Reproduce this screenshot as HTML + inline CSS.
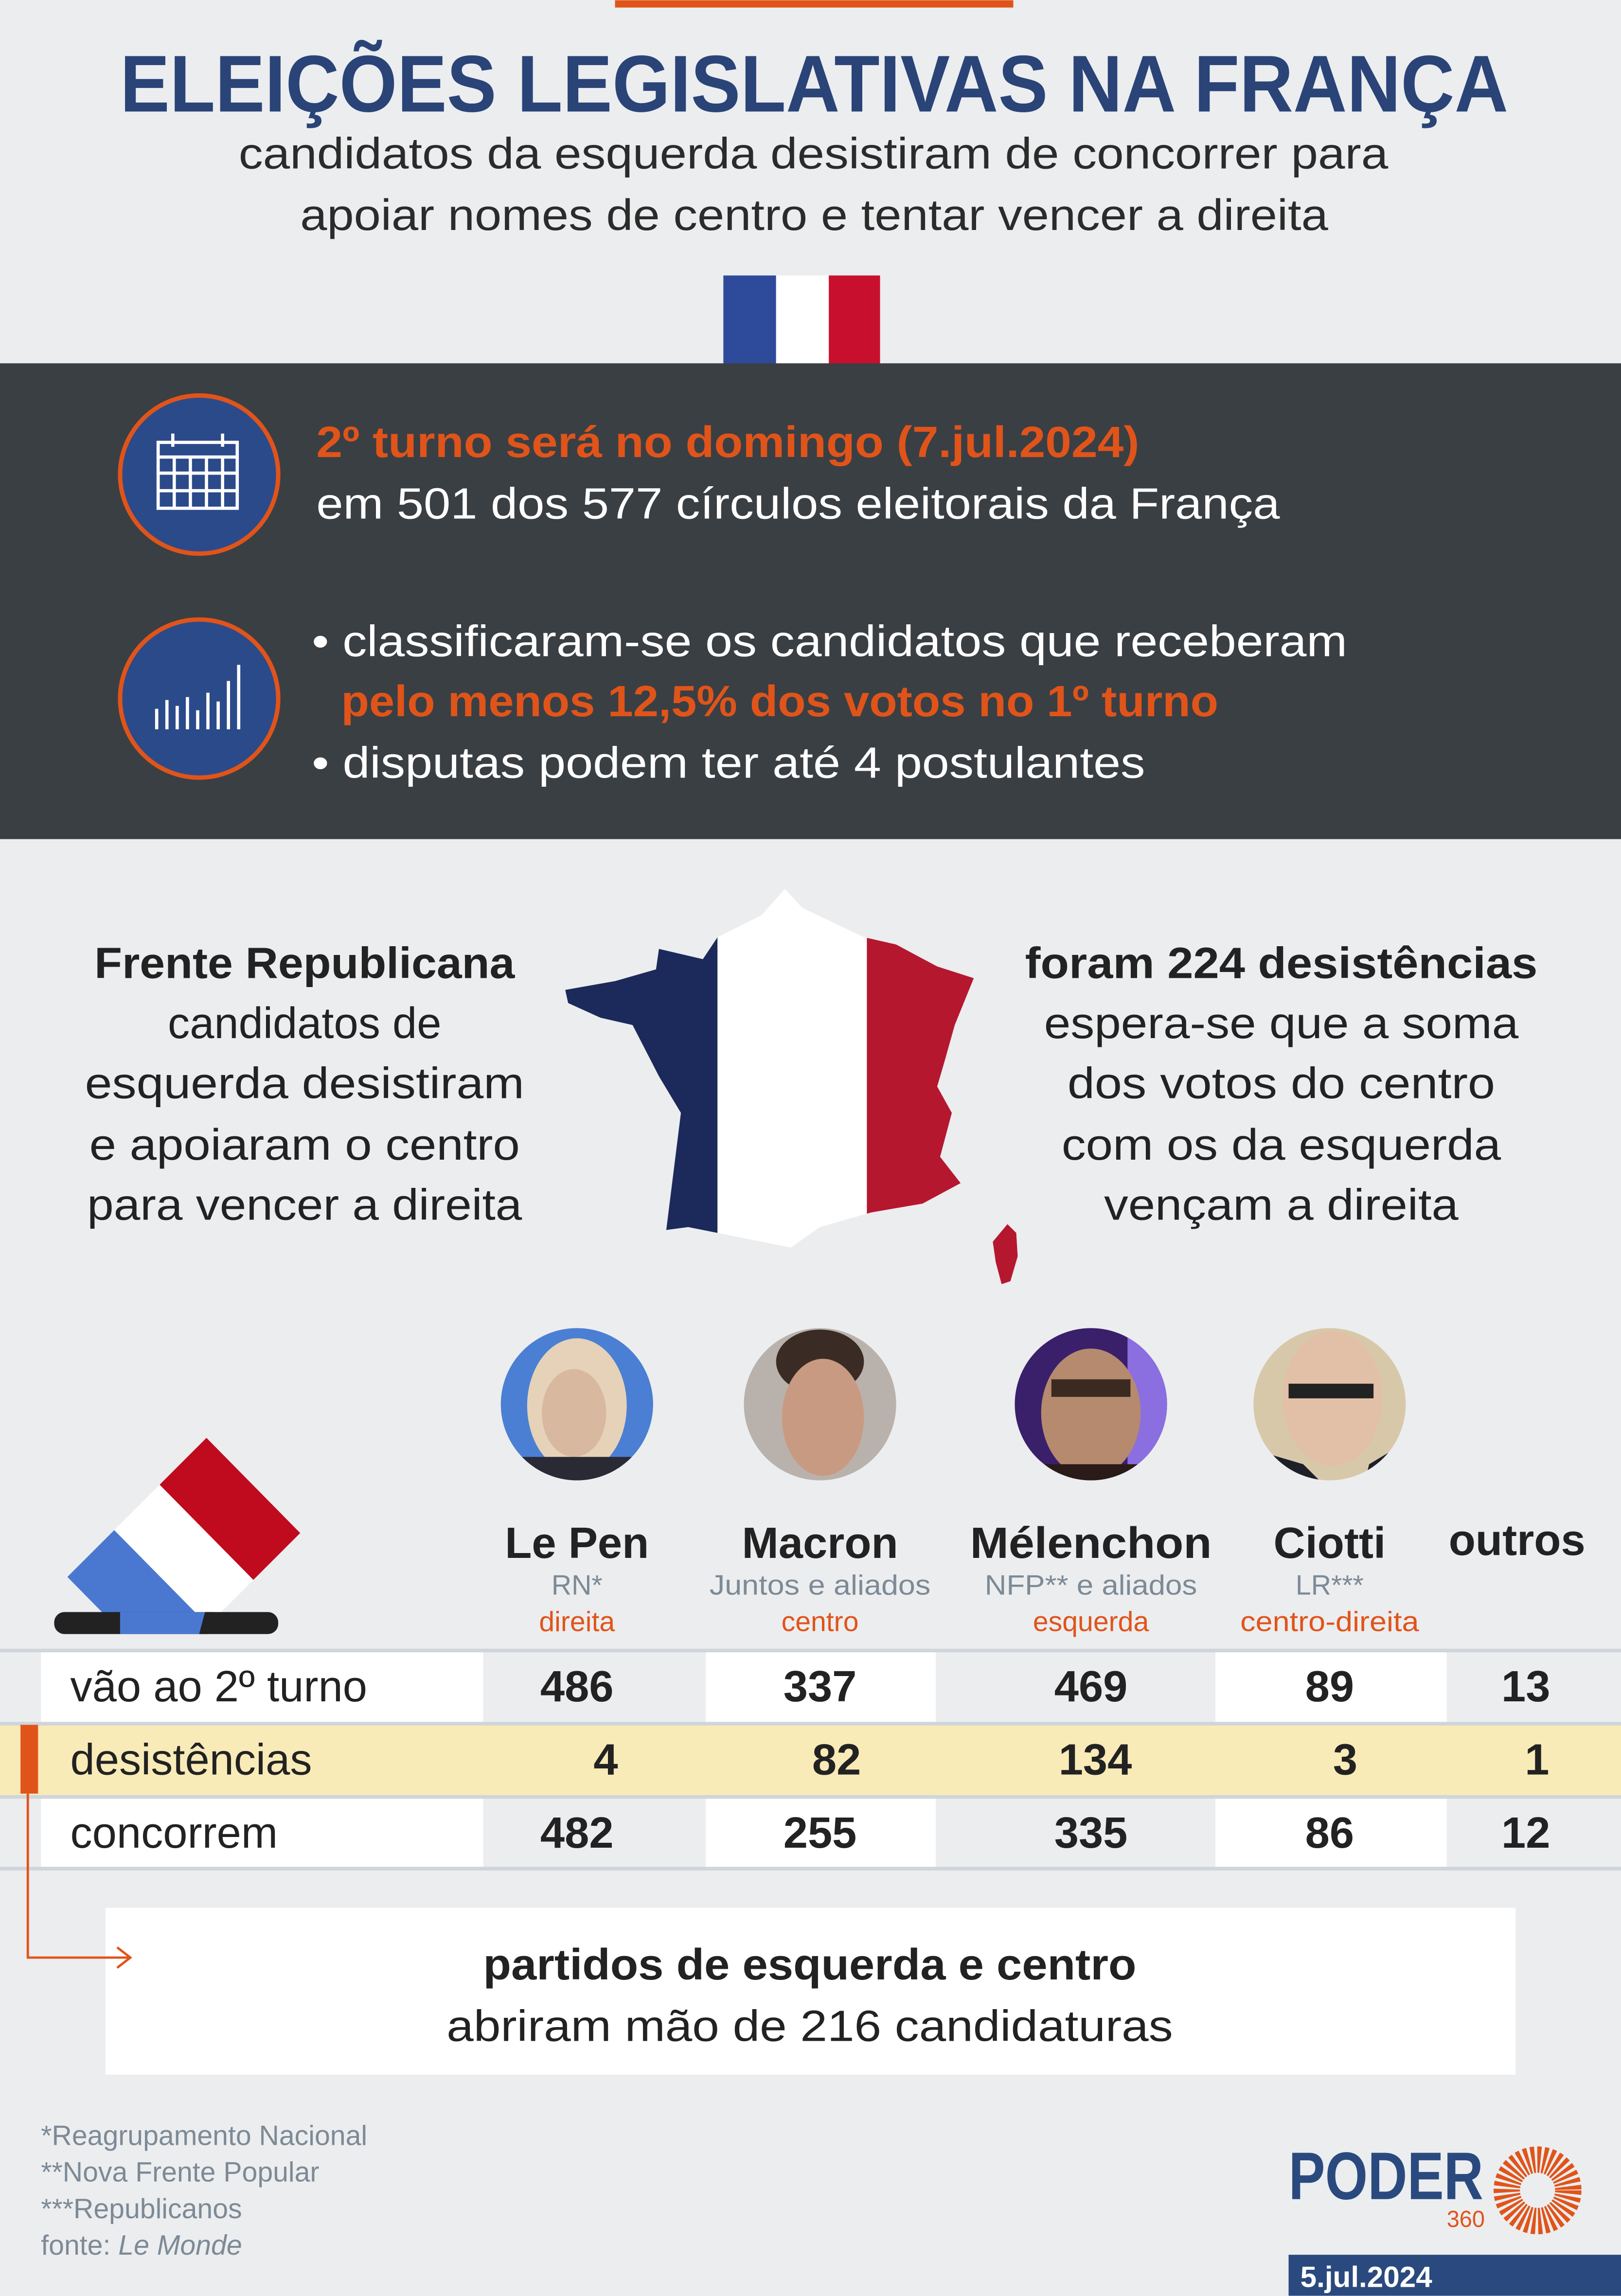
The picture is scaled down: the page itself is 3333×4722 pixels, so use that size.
<!DOCTYPE html>
<html><head><meta charset="utf-8"><style>
html,body{margin:0;padding:0;background:#ecedef;}
svg{display:block;}
text{font-family:"Liberation Sans",sans-serif;}
</style></head><body>
<svg width="3333" height="4722" viewBox="0 0 1107 1568" xmlns="http://www.w3.org/2000/svg">
<defs>
<clipPath id="fr"><path d="M536,607 L548,620 L590,640 L612,645 L640,660 L665,668 L652,700 L645,725 L640,742 L650,760 L642,790 L656,808 L630,822 L595,828 L560,838 L540,852 L505,845 L470,838 L455,840 L460,800 L465,760 L450,735 L432,700 L410,695 L388,685 L386,676 L420,670 L448,662 L450,648 L480,655 L490,640 L520,625 Z"/></clipPath>
<clipPath id="bal"><rect x="0" y="960" width="260" height="148"/></clipPath>
<clipPath id="c1"><circle cx="394" cy="959" r="52"/></clipPath>
<clipPath id="c2"><circle cx="560" cy="959" r="52"/></clipPath>
<clipPath id="c3"><circle cx="745" cy="959" r="52"/></clipPath>
<clipPath id="c4"><circle cx="908" cy="959" r="52"/></clipPath>
</defs>
<rect width="1107" height="1568" fill="#ecedef"/>
<rect x="420" y="0" width="272" height="5" fill="#e0541a"/>
<text x="82" y="76" font-size="55" font-weight="bold" fill="#2a4478" textLength="948" lengthAdjust="spacingAndGlyphs">ELEIÇÕES LEGISLATIVAS NA FRANÇA</text>
<text x="163" y="115" font-size="30" fill="#2b2b2b" textLength="785" lengthAdjust="spacingAndGlyphs">candidatos da esquerda desistiram de concorrer para</text>
<text x="205" y="157" font-size="30" fill="#2b2b2b" textLength="702" lengthAdjust="spacingAndGlyphs">apoiar nomes de centro e tentar vencer a direita</text>
<rect x="494" y="188" width="36" height="74" fill="#2e4a9a"/>
<rect x="530" y="188" width="36" height="74" fill="#fff"/>
<rect x="566" y="188" width="35" height="74" fill="#c8102e"/>
<rect x="0" y="248" width="1107" height="325" fill="#3a3f44"/>
<circle cx="136" cy="324" r="54" fill="#2b4a8a" stroke="#e0541a" stroke-width="3"/>
<g stroke="#fff" stroke-width="2.2" fill="none">
<rect x="108" y="302" width="54" height="45"/>
<line x1="108" y1="312" x2="162" y2="312"/>
<line x1="108" y1="323" x2="162" y2="323"/><line x1="108" y1="335" x2="162" y2="335"/>
<line x1="119" y1="312" x2="119" y2="347"/><line x1="130" y1="312" x2="130" y2="347"/><line x1="141" y1="312" x2="141" y2="347"/><line x1="152" y1="312" x2="152" y2="347"/>
<line x1="118" y1="296" x2="118" y2="305"/><line x1="152" y1="296" x2="152" y2="305"/>
</g>
<circle cx="136" cy="477" r="54" fill="#2b4a8a" stroke="#e0541a" stroke-width="3"/>
<g stroke="#fff" stroke-width="2.2">
<line x1="107" y1="498" x2="107" y2="484"/><line x1="114" y1="498" x2="114" y2="478"/><line x1="121" y1="498" x2="121" y2="482"/><line x1="128" y1="498" x2="128" y2="476"/><line x1="135" y1="498" x2="135" y2="485"/><line x1="142" y1="498" x2="142" y2="473"/><line x1="149" y1="498" x2="149" y2="479"/><line x1="156" y1="498" x2="156" y2="465"/><line x1="163" y1="498" x2="163" y2="454"/>
</g>
<text x="216" y="312" font-size="30" font-weight="bold" fill="#e0541a" textLength="562" lengthAdjust="spacingAndGlyphs">2º turno será no domingo (7.jul.2024)</text>
<text x="216" y="354" font-size="30" fill="#fff" textLength="658" lengthAdjust="spacingAndGlyphs">em 501 dos 577 círculos eleitorais da França</text>
<text x="213" y="448" font-size="30" fill="#fff" textLength="707" lengthAdjust="spacingAndGlyphs">• classificaram-se os candidatos que receberam</text>
<text x="233" y="489" font-size="30" font-weight="bold" fill="#e0541a" textLength="599" lengthAdjust="spacingAndGlyphs">pelo menos 12,5% dos votos no 1º turno</text>
<text x="213" y="531" font-size="30" fill="#fff" textLength="569" lengthAdjust="spacingAndGlyphs">• disputas podem ter até 4 postulantes</text>
<g font-size="30" fill="#222" text-anchor="middle">
<text x="208" y="668" font-weight="bold" textLength="287" lengthAdjust="spacingAndGlyphs">Frente Republicana</text>
<text x="208" y="709">candidatos de</text>
<text x="208" y="750" textLength="300" lengthAdjust="spacingAndGlyphs">esquerda desistiram</text>
<text x="208" y="792" textLength="294" lengthAdjust="spacingAndGlyphs">e apoiaram o centro</text>
<text x="208" y="833" textLength="297" lengthAdjust="spacingAndGlyphs">para vencer a direita</text>
<text x="875" y="668" font-weight="bold" textLength="350" lengthAdjust="spacingAndGlyphs">foram 224 desistências</text>
<text x="875" y="709" textLength="324" lengthAdjust="spacingAndGlyphs">espera-se que a soma</text>
<text x="875" y="750" textLength="292" lengthAdjust="spacingAndGlyphs">dos votos do centro</text>
<text x="875" y="792" textLength="300" lengthAdjust="spacingAndGlyphs">com os da esquerda</text>
<text x="875" y="833" textLength="242" lengthAdjust="spacingAndGlyphs">vençam a direita</text>
</g>
<g clip-path="url(#fr)">
<rect x="380" y="600" width="110" height="260" fill="#1b2a5a"/>
<rect x="490" y="600" width="102" height="260" fill="#fff"/>
<rect x="592" y="600" width="80" height="260" fill="#b5172f"/>
</g>
<path d="M688,836 L694,842 L695,858 L690,875 L684,877 L680,862 L678,848 Z" fill="#b5172f"/>
<g clip-path="url(#c1)"><rect x="340" y="905" width="110" height="110" fill="#4a7fd4"/><ellipse cx="394" cy="960" rx="34" ry="46" fill="#e6d2b8"/><ellipse cx="392" cy="965" rx="22" ry="30" fill="#d9b8a0"/><rect x="350" y="995" width="90" height="20" fill="#2a2a35"/></g>
<g clip-path="url(#c2)"><rect x="505" y="905" width="110" height="110" fill="#b9b2ac"/><ellipse cx="560" cy="930" rx="30" ry="22" fill="#3a2c24"/><ellipse cx="562" cy="968" rx="28" ry="40" fill="#c99a82"/></g>
<g clip-path="url(#c3)"><rect x="690" y="905" width="110" height="110" fill="#3a1f6a"/><rect x="770" y="905" width="30" height="110" fill="#8b6ee0"/><ellipse cx="745" cy="965" rx="34" ry="44" fill="#b58a6e"/><rect x="718" y="942" width="54" height="12" fill="#3b2a20"/><rect x="700" y="1000" width="90" height="20" fill="#2a1a18"/></g>
<g clip-path="url(#c4)"><rect x="853" y="905" width="110" height="110" fill="#d8c8aa"/><ellipse cx="910" cy="955" rx="34" ry="46" fill="#e2c0a8"/><rect x="880" y="945" width="58" height="10" fill="#222"/><path d="M856,990 L890,1000 L910,1020 L856,1020Z M960,985 L935,1000 L930,1020 L960,1020Z" fill="#1d2028"/></g>
<g clip-path="url(#bal)">
<polygon points="141,982 205,1047 173,1079 109,1014" fill="#c00a1e"/>
<polygon points="109,1014 173,1079 142,1110 78,1045" fill="#fff"/>
<polygon points="78,1045 142,1110 110,1142 46,1077" fill="#4a78d1"/>
</g>
<rect x="37" y="1101" width="153" height="15" rx="7" fill="#222"/>
<rect x="82" y="1101" width="58" height="15" fill="#4a78d1"/>
<polygon points="140,1101 146,1101 142,1116 136,1116" fill="#222"/>
<g font-size="30" font-weight="bold" fill="#222" text-anchor="middle">
<text x="394" y="1064">Le Pen</text><text x="560" y="1064">Macron</text><text x="745" y="1064" textLength="165" lengthAdjust="spacingAndGlyphs">Mélenchon</text><text x="908" y="1064">Ciotti</text><text x="1036" y="1062">outros</text>
</g>
<g font-size="19" fill="#7d8a96" text-anchor="middle">
<text x="394" y="1089">RN*</text><text x="560" y="1089" textLength="151" lengthAdjust="spacingAndGlyphs">Juntos e aliados</text><text x="745" y="1089" textLength="145" lengthAdjust="spacingAndGlyphs">NFP** e aliados</text><text x="908" y="1089">LR***</text>
</g>
<g font-size="19" fill="#e0541a" text-anchor="middle">
<text x="394" y="1114">direita</text><text x="560" y="1114">centro</text><text x="745" y="1114">esquerda</text><text x="908" y="1114" textLength="122" lengthAdjust="spacingAndGlyphs">centro-direita</text>
</g>
<g fill="#fff">
<rect x="28" y="1128" width="302" height="48"/><rect x="482" y="1128" width="157" height="48"/><rect x="830" y="1128" width="158" height="48"/>
<rect x="28" y="1228" width="302" height="47"/><rect x="482" y="1228" width="157" height="47"/><rect x="830" y="1228" width="158" height="47"/>
</g>
<rect x="0" y="1177" width="1107" height="50" fill="#f8ebb8"/>
<g fill="#d0d5da"><rect x="0" y="1126" width="1107" height="2.5"/><rect x="0" y="1176" width="1107" height="2.5"/><rect x="0" y="1226" width="1107" height="2.5"/><rect x="0" y="1275" width="1107" height="2.5"/></g>
<rect x="14" y="1178" width="12" height="47" fill="#e0541a"/>
<g font-size="30" fill="#222">
<text x="48" y="1162">vão ao 2º turno</text><text x="48" y="1212">desistências</text><text x="48" y="1262">concorrem</text>
</g>
<g font-size="30" font-weight="bold" fill="#222" text-anchor="middle">
<text x="394" y="1162">486</text><text x="560" y="1162">337</text><text x="745" y="1162">469</text><text x="908" y="1162">89</text><text x="1042" y="1162">13</text>
<text x="394" y="1262">482</text><text x="560" y="1262">255</text><text x="745" y="1262">335</text><text x="908" y="1262">86</text><text x="1042" y="1262">12</text>
</g>
<g font-size="30" font-weight="bold" fill="#222" text-anchor="end">
<text x="422" y="1212">4</text><text x="588" y="1212">82</text><text x="773" y="1212">134</text><text x="927" y="1212">3</text><text x="1058" y="1212">1</text>
</g>
<rect x="72" y="1303" width="963" height="114" fill="#fff"/>
<path d="M19,1225 L19,1337 L88,1337 M80,1330 L89,1337 L80,1344" stroke="#e0541a" stroke-width="1.6" fill="none"/>
<text x="553" y="1352" font-size="30" font-weight="bold" fill="#222" text-anchor="middle" textLength="446" lengthAdjust="spacingAndGlyphs">partidos de esquerda e centro</text>
<text x="553" y="1394" font-size="30" fill="#222" text-anchor="middle" textLength="496" lengthAdjust="spacingAndGlyphs">abriram mão de 216 candidaturas</text>
<g font-size="19" fill="#7d8a96">
<text x="28" y="1465">*Reagrupamento Nacional</text><text x="28" y="1490">**Nova Frente Popular</text><text x="28" y="1515">***Republicanos</text><text x="28" y="1540">fonte: <tspan font-style="italic">Le Monde</tspan></text>
</g>
<text x="880" y="1502" font-size="46" font-weight="bold" fill="#2a4a7f" textLength="133" lengthAdjust="spacingAndGlyphs">PODER</text>
<text x="988" y="1521" font-size="16" fill="#e0541a" textLength="26" lengthAdjust="spacingAndGlyphs">360</text>
<circle cx="1050" cy="1496" r="21" fill="none" stroke="#e0541a" stroke-width="18" stroke-dasharray="2.2 1.6"/>
<rect x="880" y="1540" width="227" height="28" fill="#2a4a7f"/>
<text x="888" y="1562" font-size="20" font-weight="bold" fill="#fff">5.jul.2024</text>
</svg>
</body></html>
